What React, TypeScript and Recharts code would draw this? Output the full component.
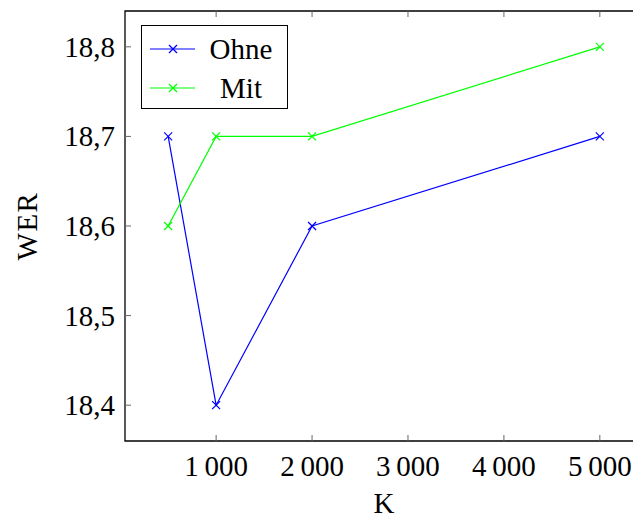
import React from "react";
import { LineChart, Line, XAxis, YAxis, ReferenceArea, Legend } from "recharts";

const kValues = [500, 1000, 2000, 5000];
const ohneWer = [18.7, 18.4, 18.6, 18.7];
const mitWer = [18.6, 18.7, 18.7, 18.8];

const xTicks = [1000, 2000, 3000, 4000, 5000];
const yTicks = [18.4, 18.5, 18.6, 18.7, 18.8];
const xDomain = [50, 5450];
const yDomain = [18.36, 18.84];

const seriesNames = { ohne: "Ohne", mit: "Mit" };
const seriesColors = { ohne: "#0000ff", mit: "#00ff00" };
const legendOrder = [seriesNames.ohne, seriesNames.mit];

const data = kValues.map((k, i) => ({ k, ohne: ohneWer[i], mit: mitWer[i] }));

const FONT = "'Liberation Serif', 'DejaVu Serif', serif";
const FONT_SIZE = 29;
const CHART_W = 660;
const CHART_H = 520;
const MARGIN = { top: 11, right: 17, bottom: 0, left: 0 };
const X_AXIS_H = 79;
const Y_AXIS_W = 125;
const PLOT_TOP = MARGIN.top;
const PLOT_BOTTOM = CHART_H - X_AXIS_H;
const PLOT_LEFT = Y_AXIS_W;
const PLOT_RIGHT = CHART_W - MARGIN.right;
const TICK_LEN = 6;
const TICK_COLOR = "#666";

function formatX(v: number): string {
  return v >= 1000 ? `${Math.floor(v / 1000)}\u2009${String(v % 1000).padStart(3, "0")}` : String(v);
}

function formatY(v: number): string {
  return v.toFixed(1).replace(".", ",");
}

function XTick(props: any) {
  const x = props.payload.coordinate;
  return (
    <g>
      <line x1={x} y1={PLOT_BOTTOM} x2={x} y2={PLOT_BOTTOM - TICK_LEN} stroke={TICK_COLOR} />
      <line x1={x} y1={PLOT_TOP} x2={x} y2={PLOT_TOP + TICK_LEN} stroke={TICK_COLOR} />
      <text x={x} y={476} textAnchor="middle" fontFamily={FONT} fontSize={FONT_SIZE} fill="#000">
        {formatX(props.payload.value)}
      </text>
    </g>
  );
}

function YTick(props: any) {
  const y = props.payload.coordinate;
  return (
    <g>
      <line x1={PLOT_LEFT} y1={y} x2={PLOT_LEFT + TICK_LEN} y2={y} stroke={TICK_COLOR} />
      <line x1={PLOT_RIGHT} y1={y} x2={PLOT_RIGHT - TICK_LEN} y2={y} stroke={TICK_COLOR} />
      <text x={115} y={y + 10} textAnchor="end" fontFamily={FONT} fontSize={FONT_SIZE} fill="#000">
        {formatY(props.payload.value)}
      </text>
    </g>
  );
}

function crossDot(color: string) {
  return (props: any) => {
    const { cx, cy, index } = props;
    const s = 4;
    return (
      <g key={`dot-${index}`}>
        <line x1={cx - s} y1={cy - s} x2={cx + s} y2={cy + s} stroke={color} strokeWidth={1.2} />
        <line x1={cx - s} y1={cy + s} x2={cx + s} y2={cy - s} stroke={color} strokeWidth={1.2} />
      </g>
    );
  };
}

function LegendBox(props: any) {
  const items = [...(props.payload || [])].sort(
    (a: any, b: any) => legendOrder.indexOf(a.value) - legendOrder.indexOf(b.value)
  );
  return (
    <div
      style={{
        width: 147,
        height: 84,
        boxSizing: "border-box",
        border: "1px solid #000",
        background: "#fff",
        paddingTop: 3,
      }}
    >
      {items.map((item: any) => (
        <div key={item.value} style={{ display: "flex", alignItems: "center", height: 39 }}>
          <svg width={60} height={20} style={{ flex: "none" }}>
            <line x1={8} y1={10} x2={53} y2={10} stroke={item.color} strokeWidth={1.2} />
            <line x1={27} y1={6} x2={35} y2={14} stroke={item.color} strokeWidth={1.2} />
            <line x1={27} y1={14} x2={35} y2={6} stroke={item.color} strokeWidth={1.2} />
          </svg>
          <span
            style={{
              width: 78,
              textAlign: "center",
              fontFamily: FONT,
              fontSize: FONT_SIZE,
              lineHeight: "30px",
              color: "#000",
            }}
          >
            {item.value}
          </span>
        </div>
      ))}
    </div>
  );
}

export default function App() {
  return (
    <div
      style={{
        position: "absolute",
        left: 0,
        top: 0,
        width: 633,
        height: 520,
        overflow: "hidden",
        background: "#fff",
      }}
    >
      <LineChart width={CHART_W} height={CHART_H} data={data} margin={MARGIN}>
        <XAxis
          dataKey="k"
          type="number"
          domain={xDomain}
          ticks={xTicks}
          allowDataOverflow
          height={X_AXIS_H}
          axisLine={false}
          tickLine={false}
          tick={XTick}
          interval={0}
          label={{
            value: "K",
            position: "insideBottom",
            offset: 7,
            style: { fontFamily: FONT, fontSize: FONT_SIZE, fill: "#000" },
          }}
        />
        <YAxis
          type="number"
          domain={yDomain}
          ticks={yTicks}
          allowDataOverflow
          width={Y_AXIS_W}
          axisLine={false}
          tickLine={false}
          tick={YTick}
          interval={0}
          label={{
            value: "WER",
            angle: -90,
            position: "insideLeft",
            offset: 27,
            style: { fontFamily: FONT, fontSize: FONT_SIZE, fill: "#000", textAnchor: "middle", letterSpacing: 1.5 },
          }}
        />
        <ReferenceArea
          x1={xDomain[0]}
          x2={xDomain[1]}
          y1={yDomain[0]}
          y2={yDomain[1]}
          fill="none"
          fillOpacity={0}
          stroke="#000"
          strokeWidth={1.3}
          ifOverflow="visible"
        />
        <Legend
          layout="horizontal"
          align="center"
          verticalAlign="middle"
          content={LegendBox}
          wrapperStyle={{ position: "absolute", left: 141, top: 25, width: 147 }}
        />
        <Line
          dataKey="ohne"
          name={seriesNames.ohne}
          type="linear"
          stroke={seriesColors.ohne}
          strokeWidth={1.2}
          dot={crossDot(seriesColors.ohne)}
          activeDot={false}
          isAnimationActive={false}
        />
        <Line
          dataKey="mit"
          name={seriesNames.mit}
          type="linear"
          stroke={seriesColors.mit}
          strokeWidth={1.2}
          dot={crossDot(seriesColors.mit)}
          activeDot={false}
          isAnimationActive={false}
        />
      </LineChart>
    </div>
  );
}
